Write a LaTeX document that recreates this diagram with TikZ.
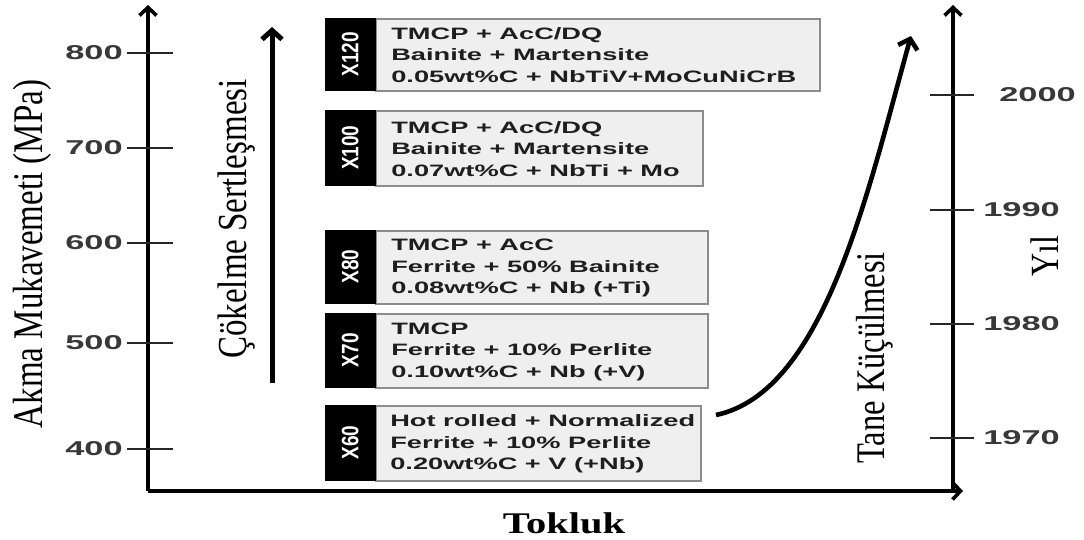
\documentclass[tikz,border=0pt]{standalone}
\usepackage{fontspec}
\setmainfont{Liberation Serif}
\newfontfamily\arial{Liberation Sans}
\usetikzlibrary{arrows.meta}

\definecolor{panelfill}{HTML}{EFEFEF}
\definecolor{panelline}{HTML}{8C8C8C}
\definecolor{ticktext}{HTML}{383838}
\definecolor{boxtext}{HTML}{1E1E1E}

\tikzset{
  axisline/.style={line width=3.6pt, -{Straight Barb[length=8pt,width=17pt]}},
  tickline/.style={line width=2.4pt, black!85},
  ticklabel/.style={font=\arial\bfseries\fontsize{20}{20}\selectfont, text=ticktext, xscale=1.72, inner sep=0pt},
  panel/.style={draw=panelline, line width=1.6pt, fill=panelfill, inner sep=0pt, anchor=north west},
  tab/.style={fill=black, draw=black, line width=0.5pt, inner sep=0pt, anchor=north west},
  tablabel/.style={font=\arial\bfseries\fontsize{19}{19}\selectfont, text=white, xscale=1.25, rotate=90, inner sep=0pt},
  paneltext/.style={font=\arial\bfseries\fontsize{16.5}{21.5}\selectfont, text=boxtext, align=left, xscale=1.65, anchor=west, inner sep=0pt},
  serif/.style={font=\fontsize{33}{33}\selectfont, inner sep=0pt, anchor=base},
  trend/.style={line width=5pt, -{Straight Barb[length=9pt,width=20pt]}}
}

\begin{document}
\begin{tikzpicture}[x=1pt, y=-1pt]
  \useasboundingbox (0,0) rectangle (1084,540);
  \fill[white] (0,0) rectangle (1084,540);

  % axes
  \coordinate (O) at (148,491);
  \coordinate (ytop) at (148,5);
  \coordinate (xend) at (963,491);
  \coordinate (R) at (953,491);
  \coordinate (rtop) at (953,5);
  \draw[axisline] (O) -- (ytop);
  \draw[axisline] (O) -- (xend);
  \draw[axisline] (R) -- (rtop);

  % strength scale (left)
  \foreach \v/\yy in {800/53, 700/148, 600/243, 500/343, 400/449} {
    \coordinate (l\v a) at (127,\yy);
    \coordinate (l\v b) at (173,\yy);
    \draw[tickline] (l\v a) -- (l\v b);
    \node[ticklabel, anchor=east] (lab\v) at (123,\yy) {\v};
  }

  % year scale (right)
  \foreach \v/\yy/\xx in {2000/95/999, 1990/210/983, 1980/324/983, 1970/438/983} {
    \coordinate (r\v a) at (930,\yy);
    \coordinate (r\v b) at (974,\yy);
    \draw[tickline] (r\v a) -- (r\v b);
    \node[ticklabel, anchor=west] (lab\v) at (\xx,\yy) {\v};
  }

  % steel grade panels
  \node[panel, minimum width=444pt, minimum height=72pt] (p120) at (375,18) {};
  \node[tab, minimum width=50pt, minimum height=72pt] (t120) at (325,18) {};
  \node[tablabel] (g120) at (t120.center) {X120};
  \node[paneltext] (d120) at (391,55)
    {TMCP + AcC/DQ\\Bainite + Martensite\\0.05wt\%C + NbTiV+MoCuNiCrB};

  \node[panel, minimum width=327pt, minimum height=75pt] (p100) at (375,110) {};
  \node[tab, minimum width=50pt, minimum height=75pt] (t100) at (325,110) {};
  \node[tablabel] (g100) at (t100.center) {X100};
  \node[paneltext] (d100) at (391,149)
    {TMCP + AcC/DQ\\Bainite + Martensite\\0.07wt\%C + NbTi + Mo};

  \node[panel, minimum width=332pt, minimum height=73pt] (p80) at (375,230) {};
  \node[tab, minimum width=50pt, minimum height=73pt] (t80) at (325,230) {};
  \node[tablabel] (g80) at (t80.center) {X80};
  \node[paneltext] (d80) at (391,268)
    {TMCP + AcC\\Ferrite + 50\% Bainite\\0.08wt\%C + Nb (+Ti)};

  \node[panel, minimum width=332pt, minimum height=74pt] (p70) at (375,313) {};
  \node[tab, minimum width=50pt, minimum height=74pt] (t70) at (325,313) {};
  \node[tablabel] (g70) at (t70.center) {X70};
  \node[paneltext] (d70) at (391,351.5)
    {TMCP\\Ferrite + 10\% Perlite\\0.10wt\%C + Nb (+V)};

  \node[panel, minimum width=325pt, minimum height=75pt] (p60) at (375,405) {};
  \node[tab, minimum width=50pt, minimum height=75pt] (t60) at (325,405) {};
  \node[tablabel] (g60) at (t60.center) {X60};
  \node[paneltext] (d60) at (390,444)
    {Hot rolled + Normalized\\Ferrite + 10\% Perlite\\0.20wt\%C + V (+Nb)};

  % precipitation hardening arrow
  \coordinate (pb) at (272,383);
  \coordinate (pt) at (272,27);
  \draw[trend] (pb) -- (pt);

  % grain refinement curve
  \coordinate (cs) at (716,415);
  \coordinate (ce) at (911,36);
  \draw[trend, line width=4.6pt] (cs) .. controls (825,392) and (868,190) .. (ce);

  % axis titles and labels
  \node[serif, xscale=1.28, rotate=90] (ylab) at (42,254) {Akma Mukavemeti (MPa)};
  \node[serif, xscale=1.25, rotate=90] (plab) at (246,219) {Çökelme Sertleşmesi};
  \node[serif, font=\fontsize{32.5}{32.5}\selectfont, xscale=1.25, rotate=90] (glab) at (884,358) {Tane Küçülmesi};
  \node[serif, font=\fontsize{32}{32}\selectfont, xscale=1.25, rotate=90] (tlab) at (1058,256) {Yıl};
  \node[serif, font=\bfseries\fontsize{30}{30}\selectfont, xscale=1.35] (xlab) at (564,533) {Tokluk};
\end{tikzpicture}
\end{document}
